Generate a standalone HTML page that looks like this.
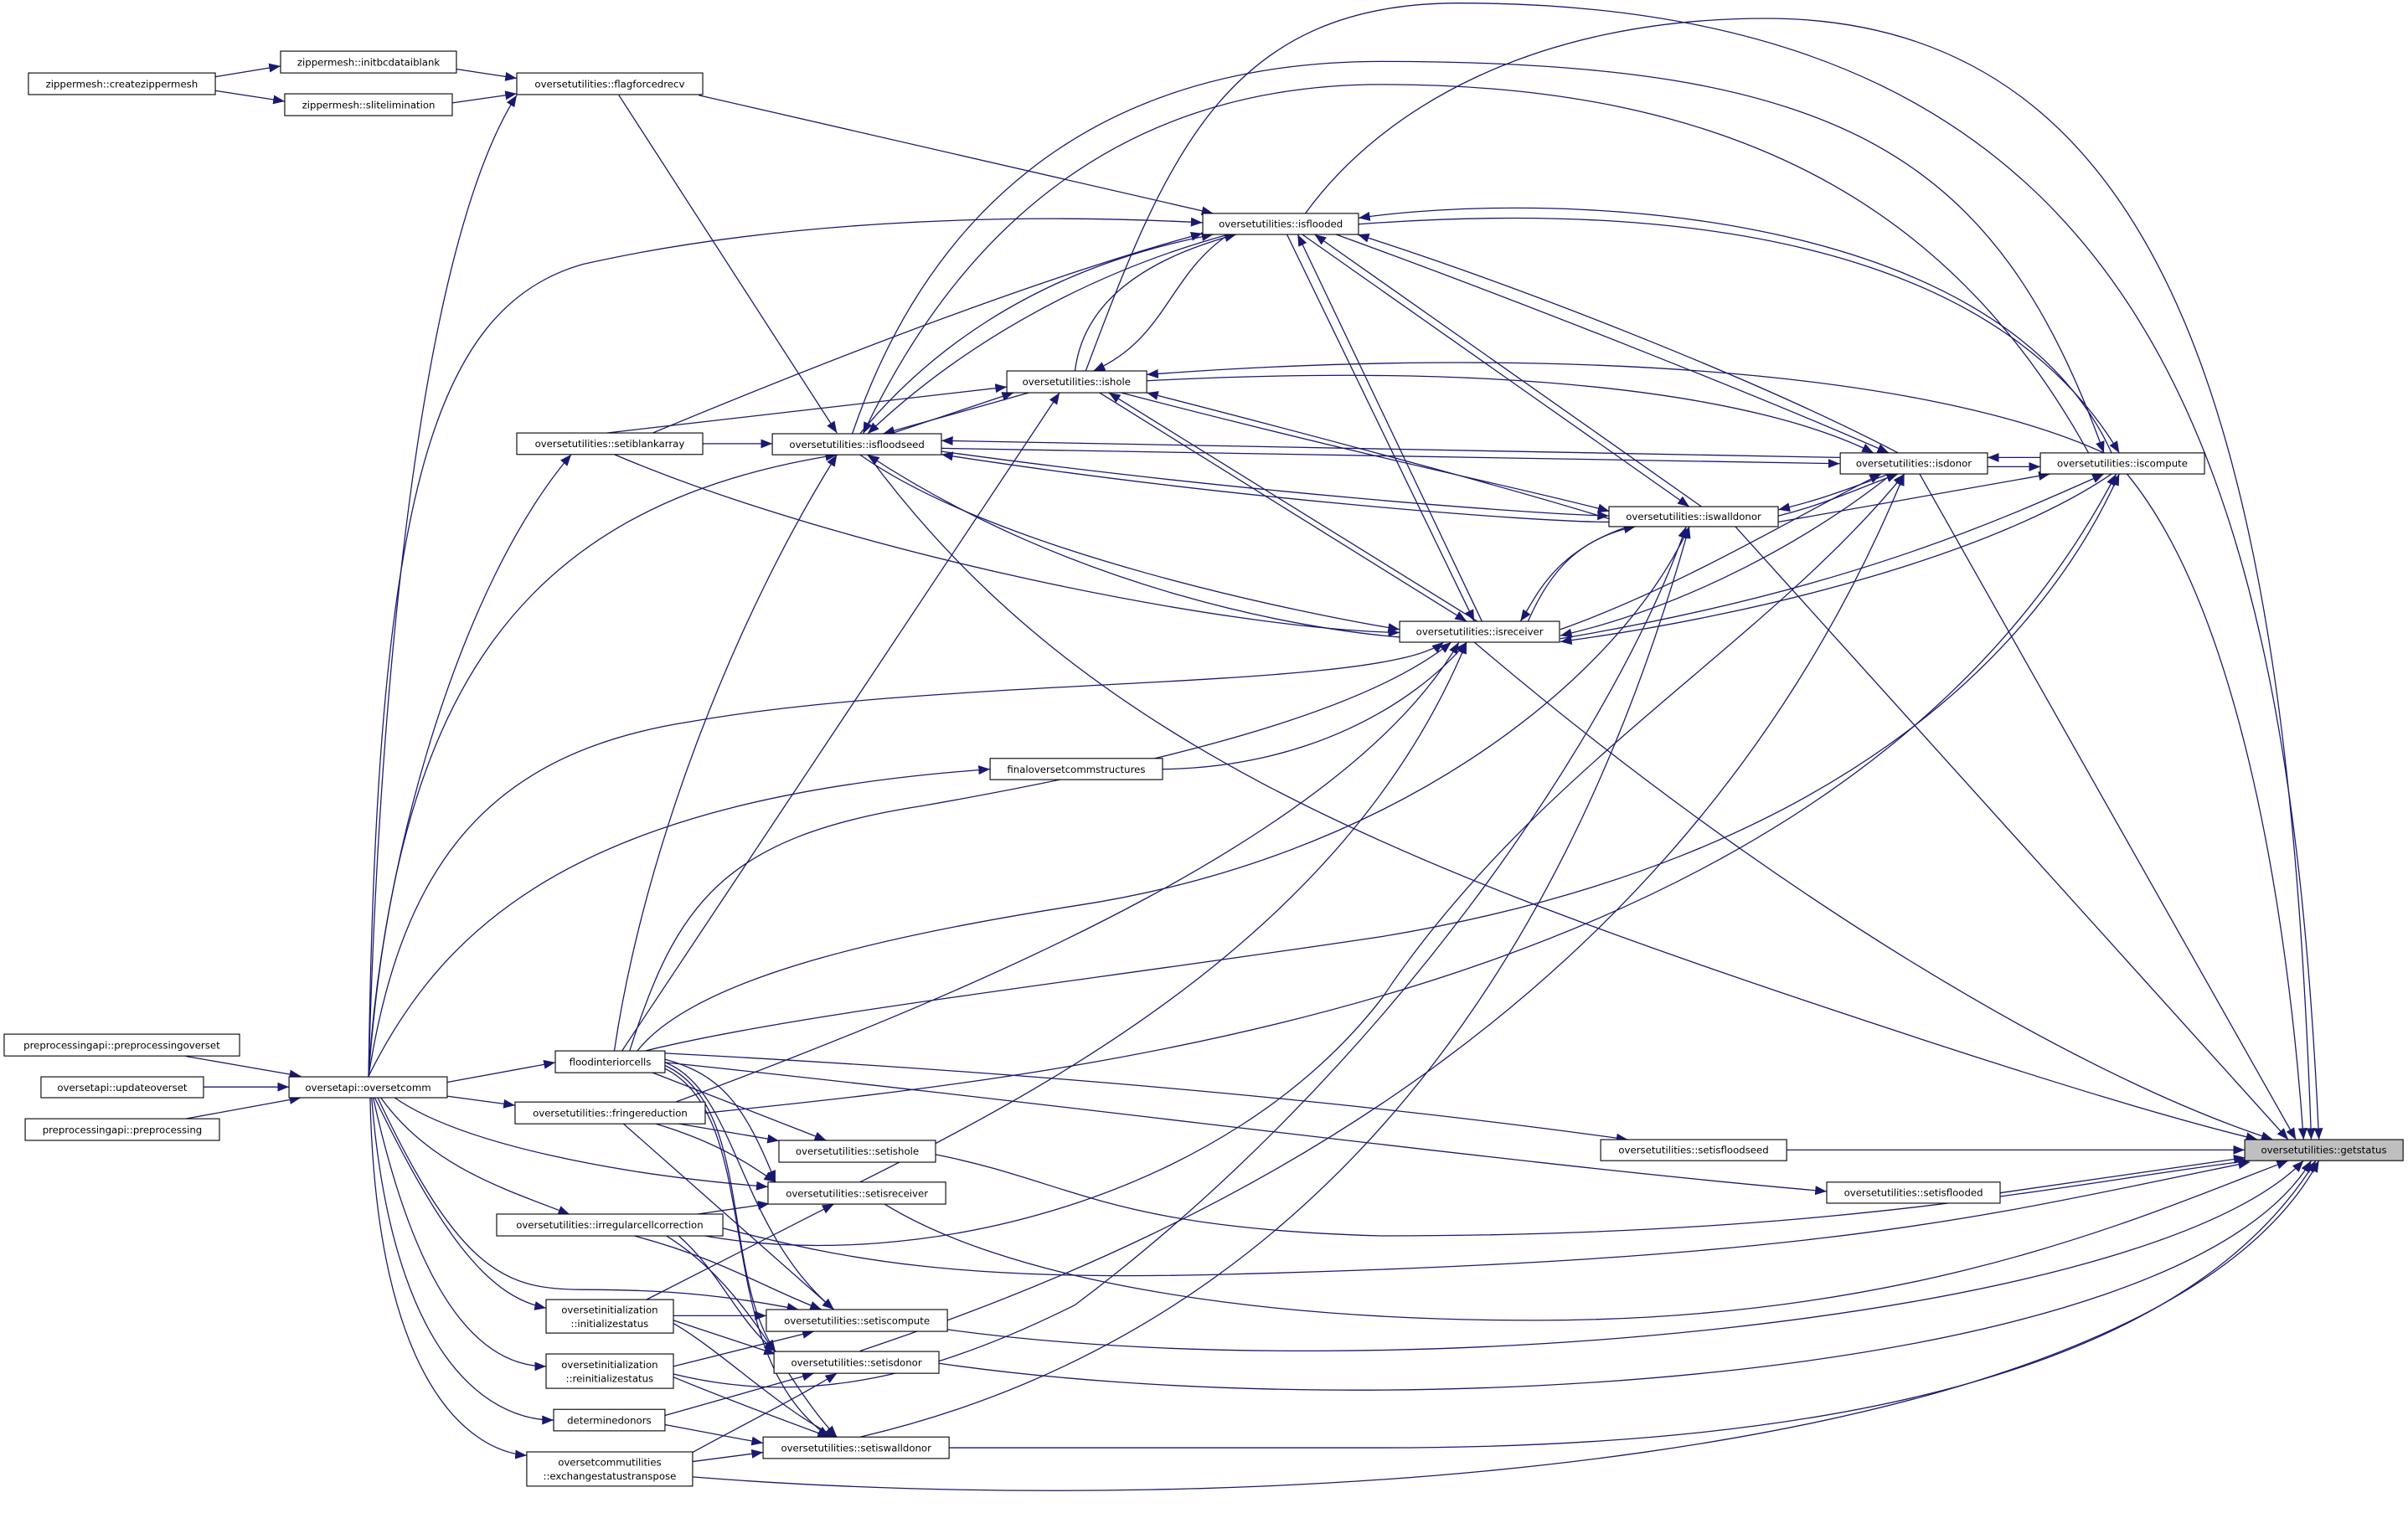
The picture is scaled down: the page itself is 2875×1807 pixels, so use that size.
<!DOCTYPE html>
<html><head><meta charset="utf-8"><style>
html,body{margin:0;padding:0;background:#fff;}
svg{display:block;}
</style></head><body>
<svg width="2875" height="1807" viewBox="0 0 1568 985.5" xmlns="http://www.w3.org/2000/svg">
<defs>
<marker id="a" markerUnits="userSpaceOnUse" markerWidth="8" markerHeight="6" refX="7.5" refY="3" orient="auto">
<path d="M0,0 L7.5,3 L0,6 z" fill="#191970"/>
</marker>
</defs>
<rect width="1568" height="985.5" fill="#fff"/>
<g fill="none" stroke="#191970" stroke-width="0.7" marker-end="url(#a)">
<path d="M140,50 L182.7,43"/>
<path d="M140,59 L185.4,66"/>
<path d="M297,45 L336.5,51"/>
<path d="M294.5,67 L336.5,61"/>
<path d="M455,62 L790,139"/>
<path d="M403,62 L545,282"/>
<path d="M121,688 L196,701"/>
<path d="M132.5,708 L188.2,708"/>
<path d="M121,728.7 L196,715"/>
<path d="M291,705 L361.6,692"/>
<path d="M291,714 L335.4,720"/>
<path d="M257,715 C300,745 400,765 500,773"/>
<path d="M248,715 C280,760 330,775 371,791"/>
<path d="M246,715 C300,830 330,840 380,840 C440,840 480,845 520,853"/>
<path d="M244,715 C290,810 320,845 355.6,852"/>
<path d="M243,715 C275,860 320,890 355.6,890"/>
<path d="M242,715 C255,880 315,925 360.5,925"/>
<path d="M241,715 C245,900 305,945 343,948"/>
<path d="M240,701 C248,560 300,380 372,296"/>
<path d="M240,701 C248,400 280,150 336.5,62"/>
<path d="M240,701 C245,330 280,200 380,172 C500,145 650,138 783,145"/>
<path d="M240,701 C258,460 330,330 545,296.2"/>
<path d="M240,701 C262,560 320,490 450,470 C620,440 900,450 940,418.3"/>
<path d="M240,701 C290,600 380,520 644.7,501"/>
<path d="M457.6,289 L502.9,289"/>
<path d="M395,282 L655.6,252"/>
<path d="M425,282 C550,230 680,180 783,152"/>
<path d="M400,296 C550,360 800,410 911.4,412"/>
<path d="M400,684.5 C420,550 480,400 545,296.2"/>
<path d="M405,684.5 L690,255.8"/>
<path d="M410,684.5 C440,590 470,545 600,525 C800,490 900,455 945,418.3"/>
<path d="M415,684.5 C450,640 560,612 700,590 C900,560 1050,450 1100,343"/>
<path d="M420,684.5 C520,660 700,640 900,610 C1200,560 1330,420 1380,308.7"/>
<path d="M433,686 C700,700 900,720 1060,742.3"/>
<path d="M433,692 C700,720 1000,760 1189.5,776"/>
<path d="M425,698.7 L538,742.8"/>
<path d="M433,690 C470,700 485,720 505,770"/>
<path d="M433,692 C480,710 480,800 543,853"/>
<path d="M433,694 C490,720 470,830 505,880.3"/>
<path d="M433,696 C500,730 460,880 540,936"/>
<path d="M442,732 L507.2,743"/>
<path d="M427,732 C470,745 490,760 505,770"/>
<path d="M406,732 L543,853"/>
<path d="M459,725 C700,700 1200,650 1378,308.7"/>
<path d="M440,717.8 C650,640 880,540 950,418.3"/>
<path d="M453,791 L501,784"/>
<path d="M470.7,800 C550,820 620,835 800,830 C1200,820 1300,790 1465,757"/>
<path d="M459,805 C600,830 800,780 900,650 C1000,500 1150,420 1240,308.7"/>
<path d="M413,805 C470,820 500,840 535,853"/>
<path d="M442,805 C470,830 480,860 505,880.3"/>
<path d="M434,805 C490,840 510,900 545,936"/>
<path d="M438.5,857 L499,857"/>
<path d="M438.5,860 L505,882"/>
<path d="M421,846.5 L543,784.3"/>
<path d="M438.5,862 C470,880 510,920 545,936"/>
<path d="M438.5,890 L530,867.2"/>
<path d="M438.5,895 C520,915 600,900 700,850 C900,700 1050,480 1098,343"/>
<path d="M438.5,897 C470,910 510,925 540,936"/>
<path d="M433,922 L530,894.5"/>
<path d="M433,928 L496.9,940"/>
<path d="M451,952 L496.9,946"/>
<path d="M451,946 C480,930 520,910 545,894.5"/>
<path d="M451,962 C800,990 1400,960 1510,756"/>
<path d="M609.2,752 C700,770 720,800 900,805 C1200,805 1350,770 1465,756"/>
<path d="M576,784.3 C650,830 800,860 1000,860 C1250,860 1400,790 1490,756"/>
<path d="M616.9,866 C900,905 1400,860 1500,756"/>
<path d="M611.4,888 C900,930 1420,900 1505,756"/>
<path d="M618,943 L900,943 C1300,943 1450,850 1508,756"/>
<path d="M1163.4,749 L1461.7,749"/>
<path d="M1302.4,777 L1462,754"/>
<path d="M560,770 C700,700 880,600 955,418.3"/>
<path d="M560,880 C800,800 1100,650 1240,308.7"/>
<path d="M560,936 C800,880 1000,700 1100,343"/>
<path d="M757,501 C850,500 920,460 955,418.3"/>
<path d="M560,282.5 C620,210 700,170 790,152.7"/>
<path d="M800,152.7 C700,180 620,230 565,282.5"/>
<path d="M580,282.5 L660,255.8"/>
<path d="M670,255.8 L575,282.5"/>
<path d="M700,241.6 C705,200 740,170 805,152.7"/>
<path d="M800,152.7 C760,180 760,220 712,241.6"/>
<path d="M838,152.7 L960,404.7"/>
<path d="M965,404.7 L845,152.7"/>
<path d="M848,152.7 L1100,330"/>
<path d="M1108,330 L856,152.7"/>
<path d="M870,152.7 C1000,200 1150,260 1230,295"/>
<path d="M1236,295 C1150,250 1000,190 884,152.7"/>
<path d="M884.6,146 C1100,130 1300,160 1380,295"/>
<path d="M1375,295 C1300,130 1000,125 884.6,142"/>
<path d="M716,255.8 L955,404.7"/>
<path d="M962,404.7 L722,255.8"/>
<path d="M730,255.8 C900,300 1000,320 1048,333"/>
<path d="M1048,338 C990,320 880,290 746.7,255.8"/>
<path d="M746.7,248 C1000,235 1150,260 1220,295"/>
<path d="M1370,295 C1250,240 1000,225 746.7,244"/>
<path d="M1198,298 L613,287"/>
<path d="M613,292 L1198,302"/>
<path d="M613,294 C800,320 1000,335 1047.7,336"/>
<path d="M1047.7,340 C1000,340 800,325 613,296"/>
<path d="M560,296.2 C650,360 850,400 911.4,410"/>
<path d="M911.4,415 C850,410 700,385 565,296.2"/>
<path d="M1328.6,298 L1294.2,298"/>
<path d="M1294.2,304 L1328.6,304"/>
<path d="M1230,308.7 C1200,320 1180,327 1158,332"/>
<path d="M1158,336 C1190,328 1210,318 1236,308.7"/>
<path d="M1016,410 C1100,380 1180,330 1225,308.7"/>
<path d="M1232,308.7 C1180,350 1100,395 1016,414"/>
<path d="M1158,340 L1335,308.7"/>
<path d="M1016,416 C1200,385 1300,340 1370,308.7"/>
<path d="M1375,308.7 C1300,360 1150,400 1016,418"/>
<path d="M1060,343 C1010,360 1000,390 990,404.7"/>
<path d="M995,404.7 C1010,370 1030,350 1065,343"/>
<path d="M555,282.5 C600,150 700,40 900,40 C1200,40 1300,100 1370,295"/>
<path d="M1360,295 C1280,150 1150,55 900,55 C720,55 620,160 562,282.5"/>
<path d="M707,241.6 C760,100 800,2 950,2 C1400,2 1490,300 1510,742.3"/>
<path d="M850,139 C900,70 1000,12 1150,12 C1420,12 1490,300 1505,742.3"/>
<path d="M1385,308.7 C1460,400 1490,600 1500,742.3"/>
<path d="M1250,308.7 L1495,742.3"/>
<path d="M1130,343 L1490,742.3"/>
<path d="M960,418.3 C1150,580 1350,700 1480,742.3"/>
<path d="M565,296.2 C700,480 900,560 1200,660 C1350,710 1420,730 1470,742.3"/>
</g>
<g font-family="'DejaVu Sans','Liberation Sans',sans-serif" font-size="6.4" text-anchor="middle" fill="#000">
<g fill="#fff" stroke="#000" stroke-width="0.6">
<rect x="18.5" y="47.5" width="121.7" height="14.1"/>
<rect x="182.7" y="33.3" width="114.5" height="14.2"/>
<rect x="185.4" y="61.1" width="109.1" height="14.2"/>
<rect x="336.5" y="47.5" width="121.1" height="14.1"/>
<rect x="336.5" y="282" width="121.1" height="14"/>
<rect x="502.9" y="282.5" width="110.1" height="13.7"/>
<rect x="783.2" y="139" width="101.4" height="13.7"/>
<rect x="655.6" y="241.6" width="91.1" height="14.2"/>
<rect x="911.4" y="404.7" width="104.1" height="13.6"/>
<rect x="1047.7" y="330" width="110.2" height="13"/>
<rect x="1198.3" y="295" width="95.9" height="13.7"/>
<rect x="1328.6" y="295" width="106.9" height="13.7"/>
<rect x="1461.7" y="742.3" width="103.1" height="13.7" fill="#bfbfbf"/>
<rect x="1042.3" y="742.3" width="121.1" height="13.7"/>
<rect x="1189.5" y="770" width="112.9" height="13.7"/>
<rect x="2.7" y="673.6" width="153.3" height="14.2"/>
<rect x="26.7" y="701.4" width="105.8" height="13.6"/>
<rect x="16.4" y="728.7" width="126.5" height="14.1"/>
<rect x="188.2" y="701.4" width="103" height="13.6"/>
<rect x="361.6" y="684.5" width="71.4" height="14.2"/>
<rect x="335.4" y="717.8" width="123.8" height="14.2"/>
<rect x="507.2" y="742.8" width="102" height="14.2"/>
<rect x="500.1" y="770" width="115.7" height="14.3"/>
<rect x="323.4" y="790.8" width="147.3" height="14.2"/>
<rect x="355.6" y="846.5" width="82.9" height="21.8"/>
<rect x="499" y="853" width="117.9" height="14.2"/>
<rect x="504" y="880.3" width="107.4" height="14.2"/>
<rect x="355.6" y="881.9" width="82.9" height="22.4"/>
<rect x="360.5" y="918" width="72.5" height="14"/>
<rect x="496.9" y="936" width="121.1" height="14"/>
<rect x="343" y="945.7" width="108" height="22.3"/>
<rect x="644.7" y="494" width="112.3" height="13.8"/>
</g>
<text x="79.3" y="56.9">zippermesh::createzippermesh</text>
<text x="240" y="42.7">zippermesh::initbcdataiblank</text>
<text x="240" y="70.5">zippermesh::slitelimination</text>
<text x="397" y="56.9">oversetutilities::flagforcedrecv</text>
<text x="397" y="291.3">oversetutilities::setiblankarray</text>
<text x="558" y="291.7">oversetutilities::isfloodseed</text>
<text x="834" y="148.1">oversetutilities::isflooded</text>
<text x="701" y="251">oversetutilities::ishole</text>
<text x="963.5" y="413.8">oversetutilities::isreceiver</text>
<text x="1102.8" y="338.8">oversetutilities::iswalldonor</text>
<text x="1246.2" y="304.1">oversetutilities::isdonor</text>
<text x="1382" y="304.1">oversetutilities::iscompute</text>
<text x="1513.2" y="751.4">oversetutilities::getstatus</text>
<text x="1102.8" y="751.4">oversetutilities::setisfloodseed</text>
<text x="1246" y="779.1">oversetutilities::setisflooded</text>
<text x="79.3" y="683">preprocessingapi::preprocessingoverset</text>
<text x="79.6" y="710.5">oversetapi::updateoverset</text>
<text x="79.6" y="738.1">preprocessingapi::preprocessing</text>
<text x="239.7" y="710.5">oversetapi::oversetcomm</text>
<text x="397.3" y="693.9">floodinteriorcells</text>
<text x="397.3" y="727.2">oversetutilities::fringereduction</text>
<text x="558.2" y="752.2">oversetutilities::setishole</text>
<text x="558" y="779.5">oversetutilities::setisreceiver</text>
<text x="397" y="800.2">oversetutilities::irregularcellcorrection</text>
<text x="397" y="855.4">oversetinitialization</text>
<text x="397" y="864.4">::initializestatus</text>
<text x="558" y="862.4">oversetutilities::setiscompute</text>
<text x="557.7" y="889.7">oversetutilities::setisdonor</text>
<text x="397" y="891.1">oversetinitialization</text>
<text x="397" y="900.1">::reinitializestatus</text>
<text x="396.7" y="927.3">determinedonors</text>
<text x="557.5" y="945.3">oversetutilities::setiswalldonor</text>
<text x="397" y="954.7">oversetcommutilities</text>
<text x="397" y="963.7">::exchangestatustranspose</text>
<text x="700.8" y="503.3">finaloversetcommstructures</text>
</g>
</svg>
</body></html>
